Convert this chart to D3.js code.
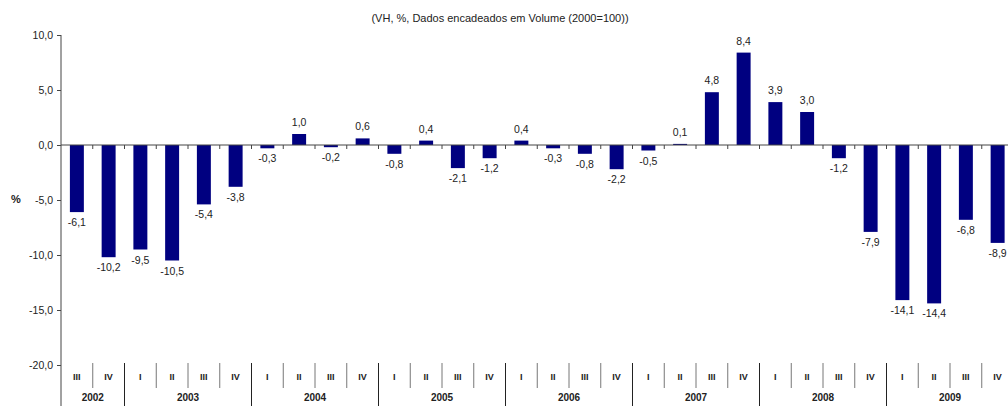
<!DOCTYPE html>
<html>
<head>
<meta charset="utf-8">
<script src="https://cdn.jsdelivr.net/npm/d3@7"></script>
<style>
  body { margin: 0; background: #fff; }
  text { font-family: "Liberation Sans", Arial, sans-serif; fill: #222; }
</style>
</head>
<body>
<div id="chart"></div>
<script>
var years = ["2002", "2003", "2004", "2005", "2006", "2007", "2008", "2009"];
var quarters = ["III", "IV",
  "I", "II", "III", "IV", "I", "II", "III", "IV", "I", "II", "III", "IV",
  "I", "II", "III", "IV", "I", "II", "III", "IV", "I", "II", "III", "IV",
  "I", "II", "III", "IV"];
var values = [-6.1, -10.2,
  -9.5, -10.5, -5.4, -3.8, -0.3, 1.0, -0.2, 0.6, -0.8, 0.4, -2.1, -1.2,
  0.4, -0.3, -0.8, -2.2, -0.5, 0.1, 4.8, 8.4, 3.9, 3.0, -1.2, -7.9,
  -14.1, -14.4, -6.8, -8.9];
var yTicks = [10, 5, 0, -5, -10, -15, -20];
var title = "(VH, %, Dados encadeados em Volume (2000=100))";

var width = 1008, height = 406;
var margin = {top: 35, left: 61};
var band = 31.75;

var svg = d3.select('#chart').append('svg')
  .attr('width', width)
  .attr('height', height);

var x = d3.scaleBand()
  .domain(d3.range(values.length))
  .range([margin.left, margin.left + band * values.length])
  .paddingInner(0.56)
  .paddingOuter(0.28);

var y = d3.scaleLinear()
  .domain([-20, 10])
  .range([365, 35]);

var fmt = function(v) { return d3.format('.1f')(v).replace('.', ',').replace('−', '-'); };

// title
svg.append('text')
  .attr('x', 500).attr('y', 22)
  .attr('text-anchor', 'middle')
  .style('font-size', '11px')
  .text(title);

// y axis
var yAxis = d3.axisLeft(y)
  .tickValues(yTicks)
  .tickSize(4)
  .tickFormat(fmt);
var gy = svg.append('g')
  .attr('transform', 'translate(' + margin.left + ',0)')
  .call(yAxis);
gy.select('.domain').remove();
gy.selectAll('line').attr('stroke', '#444');
gy.selectAll('text').style('font-size', '10.5px').attr('x', -8).attr('fill', '#222');
svg.append('line')
  .attr('x1', margin.left).attr('x2', margin.left)
  .attr('y1', y(10)).attr('y2', height)
  .attr('stroke', '#444');

svg.append('text')
  .attr('x', 16).attr('y', 203)
  .attr('text-anchor', 'middle')
  .style('font-size', '11px')
  .style('font-weight', 'bold')
  .text('%');

// bars
svg.selectAll('rect.bar')
  .data(values)
  .enter().append('rect')
  .attr('class', 'bar')
  .attr('x', function(d, i) { return x(i); })
  .attr('width', x.bandwidth())
  .attr('y', function(d) { return y(Math.max(0, d)); })
  .attr('height', function(d) { return Math.abs(y(d) - y(0)); })
  .attr('fill', '#000080');

// value labels
svg.selectAll('text.val')
  .data(values)
  .enter().append('text')
  .attr('class', 'val')
  .attr('x', function(d, i) { return x(i) + x.bandwidth() / 2; })
  .attr('y', function(d) { return d >= 0 ? y(d) - 8 : y(d) + 14; })
  .attr('text-anchor', 'middle')
  .style('font-size', '10.5px')
  .text(fmt);

// zero line with ticks
var x0 = margin.left, x1 = margin.left + band * values.length;
svg.append('line')
  .attr('x1', x0).attr('x2', x1)
  .attr('y1', y(0)).attr('y2', y(0))
  .attr('stroke', '#444');
svg.selectAll('line.zt')
  .data(d3.range(1, values.length))
  .enter().append('line')
  .attr('class', 'zt')
  .attr('x1', function(i) { return x0 + i * band; })
  .attr('x2', function(i) { return x0 + i * band; })
  .attr('y1', y(0)).attr('y2', y(0) + 4)
  .attr('stroke', '#444');

// category axis
var firstQ = 2; // 2002 starts at quarter III
svg.selectAll('line.qsep')
  .data(d3.range(1, values.length))
  .enter().append('line')
  .attr('class', 'qsep')
  .attr('x1', function(i) { return x0 + i * band; })
  .attr('x2', function(i) { return x0 + i * band; })
  .attr('y1', 363)
  .attr('y2', function(i) { return (i + firstQ) % 4 === 0 ? height : 388; })
  .attr('stroke', function(i) { return (i + firstQ) % 4 === 0 ? '#222' : '#777'; });

svg.selectAll('text.q')
  .data(quarters)
  .enter().append('text')
  .attr('class', 'q')
  .attr('x', function(d, i) { return x0 + (i + 0.5) * band; })
  .attr('y', 380)
  .attr('text-anchor', 'middle')
  .style('font-size', '9px')
  .style('font-weight', 'bold')
  .text(function(d) { return d; });

svg.selectAll('text.yr')
  .data(years)
  .enter().append('text')
  .attr('class', 'yr')
  .attr('x', function(d, i) {
    var start = i === 0 ? 0 : 2 + (i - 1) * 4;
    var n = i === 0 ? 2 : 4;
    return x0 + (start + n / 2) * band;
  })
  .attr('y', 401)
  .attr('text-anchor', 'middle')
  .style('font-size', '10px')
  .style('font-weight', 'bold')
  .text(function(d) { return d; });
</script>
</body>
</html>
